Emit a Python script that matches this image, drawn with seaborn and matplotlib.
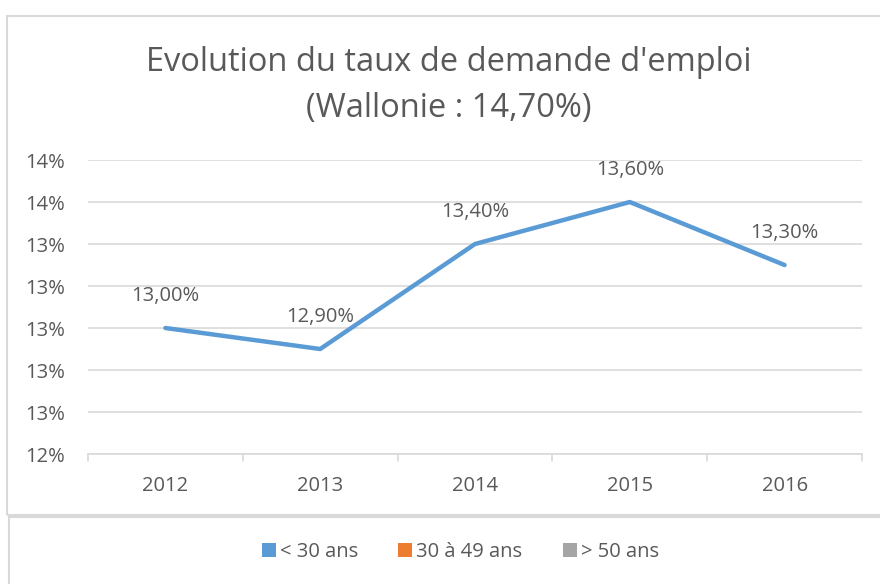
import numpy as np
import pandas as pd
import matplotlib.pyplot as plt
import seaborn as sns
from matplotlib.patches import Rectangle, Patch
from matplotlib.ticker import FuncFormatter

# données
annees = ["2012", "2013", "2014", "2015", "2016"]
taux_moins_30 = [13.0, 12.9, 13.4, 13.6, 13.3]
series = ["< 30 ans", "30 à 49 ans", "> 50 ans"]
couleurs = ["#5B9BD5", "#ED7D31", "#A5A5A5"]
y_ticks = [12.4, 12.6, 12.8, 13.0, 13.2, 13.4, 13.6, 13.8]

df = pd.DataFrame({"annee": annees, "taux": taux_moins_30})

sns.set_style("white")
plt.rcParams['font.family'] = ['Open Sans', 'DejaVu Sans']
gris = "#595959"

fig = plt.figure(figsize=(8.8, 5.84), dpi=100)
ax = fig.add_axes([0.1, 0.2226, 0.8795, 0.5034])

# cadres
fig.patches.append(Rectangle((0.008, 0.118), 1.2, 0.855, transform=fig.transFigure,
                             fill=False, edgecolor="#D9D9D9", lw=1.5))
fig.patches.append(Rectangle((0.0105, -0.1), 1.2, 0.214, transform=fig.transFigure,
                             fill=False, edgecolor="#D9D9D9", lw=1.5))

sns.lineplot(data=df, x="annee", y="taux", ax=ax, color=couleurs[0], lw=3.2,
             sort=False, legend=False)

for i, v in enumerate(taux_moins_30):
    ax.annotate(f"{v:.2f}%".replace(".", ","), (i, v), xytext=(0, 23),
                textcoords="offset points", ha="center", va="center",
                fontsize=14.5, color=gris)

ax.set_xlim(-0.5, 4.5)
ax.set_ylim(12.4, 13.8)
ax.set_yticks(y_ticks)
ax.yaxis.set_major_formatter(FuncFormatter(lambda v, p: f"{v:.0f}%"))
ax.grid(axis="y", color="#D9D9D9", lw=1.2)
ax.set_xlabel("")
ax.set_ylabel("")
for s in ["top", "right", "left"]:
    ax.spines[s].set_visible(False)
ax.spines["bottom"].set_color("#D9D9D9")
ax.spines["bottom"].set_linewidth(1.2)
ax.tick_params(axis="y", length=0, pad=16.5, labelsize=14.5, labelcolor=gris)
ax.tick_params(axis="x", length=0, pad=16, labelsize=14.5, labelcolor=gris)
# petits traits entre catégories
for xb in np.arange(-0.5, 5, 1):
    ax.plot([xb, xb], [12.4, 12.4 - 0.035], color="#D9D9D9", lw=1.2, clip_on=False)

fig.text(0.51, 0.893, "Evolution du taux de demande d'emploi", ha="center", va="center",
         fontsize=23.5, color=gris)
fig.text(0.51, 0.815, "(Wallonie : 14,70%)", ha="center", va="center",
         fontsize=23.5, color=gris)

handles = [Patch(facecolor=c, edgecolor="none") for c in couleurs]
fig.legend(handles, series, loc="center", bbox_to_anchor=(0.523, 0.054), ncol=3,
           frameon=False, fontsize=14.5, labelcolor=gris, handlelength=0.7,
           handleheight=0.7, handletextpad=0.2, columnspacing=2.0)

plt.savefig("out.png", dpi=100)
